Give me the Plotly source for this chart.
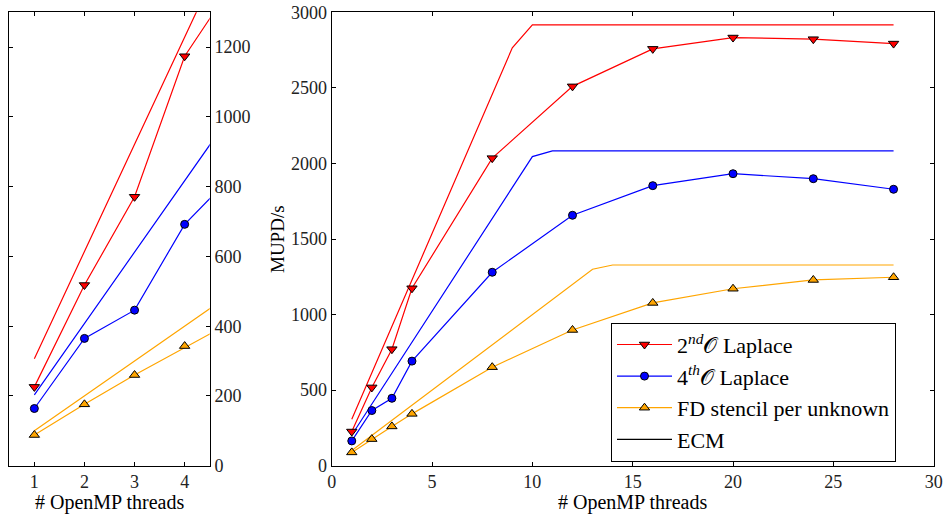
import plotly.graph_objects as go

threads = [1, 2, 3, 4, 8, 12, 16, 20, 24, 28]
lap2 = [226, 518, 771, 1174, 2035, 2510, 2758, 2833, 2822, 2793]
lap4 = [164, 365, 446, 692, 1280, 1657, 1853, 1932, 1899, 1829]
fd = [88, 176, 260, 343, 652, 898, 1077, 1171, 1229, 1247]

ecm2_x = [1, 9, 10, 28]
ecm2_y = [307, 2765, 2917, 2917]
ecm4_x = [1, 10, 11, 28]
ecm4_y = [203, 2045, 2083, 2083]
ecmfd_x = [1, 13, 14, 28]
ecmfd_y = [100, 1300, 1328, 1328]

RED, BLUE, ORANGE = "#ff0000", "#0000ff", "#ffa500"
FONT = "Liberation Serif"

series = [
    ("2<sup><i>nd</i></sup>𝒪 Laplace", lap2, RED, "triangle-down", 9),
    ("4<sup><i>th</i></sup>𝒪 Laplace", lap4, BLUE, "circle", 8),
    ("FD stencil per unknown", fd, ORANGE, "triangle-up", 9),
]
ecms = [(ecm2_x, ecm2_y, RED), (ecm4_x, ecm4_y, BLUE), (ecmfd_x, ecmfd_y, ORANGE)]

fig = go.Figure()
for xa, ya, leg in [("x", "y", False), ("x2", "y2", True)]:
    for ex, ey, c in ecms:
        fig.add_trace(go.Scatter(x=ex, y=ey, mode="lines", line=dict(color=c, width=1.2),
                                 xaxis=xa, yaxis=ya, showlegend=False, hoverinfo="skip"))
    for name, vals, c, sym, sz in series:
        fig.add_trace(go.Scatter(x=threads, y=vals, mode="lines+markers", name=name,
                                 line=dict(color=c, width=1.2),
                                 marker=dict(symbol=sym, size=sz, color=c,
                                             line=dict(color="black", width=1)),
                                 xaxis=xa, yaxis=ya, showlegend=leg))
fig.add_trace(go.Scatter(x=[None], y=[None], mode="lines", name="ECM",
                         line=dict(color="black", width=1.2), xaxis="x2", yaxis="y2"))

axcommon = dict(showline=True, linecolor="black", linewidth=1.2, mirror="ticks",
                ticks="inside", ticklen=4, tickcolor="black", showgrid=False,
                zeroline=False, automargin=False,
                tickfont=dict(family=FONT, size=18, color="#222"))
ytop, ybot = 1 - 12.3 / 515, 1 - 465.7 / 515

fig.update_layout(
    width=947, height=515, margin=dict(l=0, r=0, t=0, b=0),
    paper_bgcolor="white", plot_bgcolor="white",
    font=dict(family=FONT, size=18, color="black"),
    xaxis=dict(domain=[9.3 / 947, 209.7 / 947], range=[0.5, 4.5], tickvals=[1, 2, 3, 4],
               anchor="y", **axcommon),
    yaxis=dict(domain=[ybot, ytop], range=[0, 1300], tickvals=[0, 200, 400, 600, 800, 1000, 1200],
               side="right", anchor="x", **axcommon),
    xaxis2=dict(domain=[331.7 / 947, 933.7 / 947], range=[0, 30], dtick=5, anchor="y2",
                **axcommon),
    yaxis2=dict(domain=[ybot, ytop], range=[0, 3000], dtick=500, anchor="x2", **axcommon),
    legend=dict(x=611 / 947, y=1 - 322.7 / 515, xanchor="left", yanchor="top",
                bgcolor="white", bordercolor="black", borderwidth=1,
                font=dict(family=FONT, size=22), itemwidth=55),
    annotations=[
        dict(text="# OpenMP threads", x=109.5 / 947, y=1 - 502 / 515, xref="paper", yref="paper",
             showarrow=False, xanchor="center", yanchor="middle", font=dict(family=FONT, size=20)),
        dict(text="# OpenMP threads", x=632 / 947, y=1 - 502 / 515, xref="paper", yref="paper",
             showarrow=False, xanchor="center", yanchor="middle", font=dict(family=FONT, size=20)),
        dict(text="MUPD/s", x=278 / 947, y=1 - 239 / 515, xref="paper", yref="paper",
             showarrow=False, xanchor="center", yanchor="middle", textangle=-90,
             font=dict(family=FONT, size=19)),
    ],
)

fig.write_html("out.html")
